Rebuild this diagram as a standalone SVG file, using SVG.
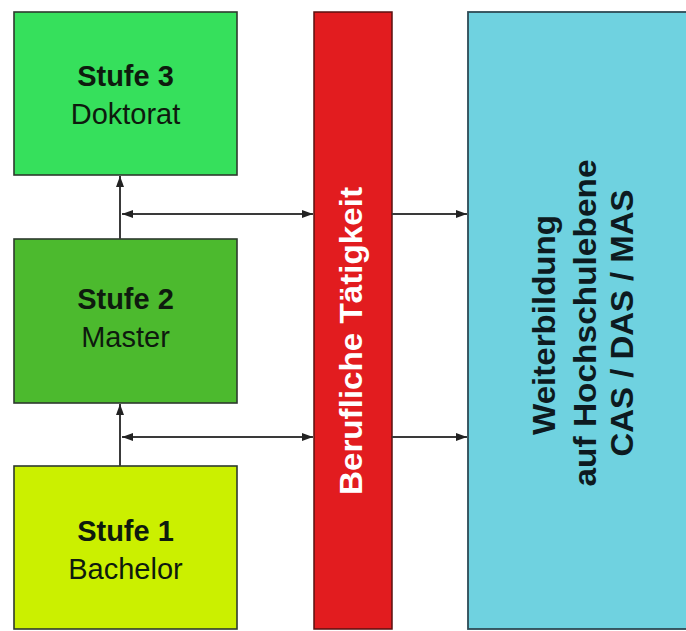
<svg xmlns="http://www.w3.org/2000/svg" width="686" height="631" viewBox="0 0 686 631">
  <defs>
    <marker id="ah" viewBox="0 0 11 10" refX="11" refY="5" markerWidth="11" markerHeight="10" markerUnits="userSpaceOnUse" orient="auto-start-reverse">
      <path d="M0,1 L11,5 L0,9 Z" fill="#222"/>
    </marker>
    <style>
      .box { stroke: #2d3a2d; stroke-width: 1.6; }
      .lbl { font-family: "Liberation Sans", Arial, sans-serif; font-size: 29px; fill: #0e1a0e; text-anchor: middle; }
      .b { font-weight: bold; }
      .rot { font-family: "Liberation Sans", Arial, sans-serif; font-size: 32px; font-weight: bold; text-anchor: middle; }
      .conn { stroke: #3a3a3a; stroke-width: 2; fill: none; }
    </style>
  </defs>
  <rect width="686" height="631" fill="#ffffff"/>

  <g id="stufe3">
    <rect class="box" x="14" y="12" width="223" height="163" fill="#36e05c"/>
    <text class="lbl b" x="125.5" y="86">Stufe 3</text>
    <text class="lbl" x="125.5" y="124">Doktorat</text>
  </g>

  <g id="stufe2">
    <rect class="box" x="14" y="239" width="223" height="164" fill="#4cba2e"/>
    <text class="lbl b" x="125.5" y="309">Stufe 2</text>
    <text class="lbl" x="125.5" y="347">Master</text>
  </g>

  <g id="stufe1">
    <rect class="box" x="14" y="466" width="223" height="163" fill="#cbf000"/>
    <text class="lbl b" x="125.5" y="541">Stufe 1</text>
    <text class="lbl" x="125.5" y="579">Bachelor</text>
  </g>

  <g id="beruf">
    <rect x="314" y="12" width="78" height="617" fill="#e21c1f" stroke="#5a1010" stroke-width="1.5"/>
    <text class="rot" fill="#ffffff" transform="translate(362,341) rotate(-90)" x="0" y="0" textLength="308" lengthAdjust="spacingAndGlyphs">Berufliche Tätigkeit</text>
  </g>

  <g id="weiterbildung">
    <rect x="468" y="12" width="224" height="617" fill="#6fd2e0" stroke="#2e4a55" stroke-width="1.8"/>
    <text class="rot" fill="#0d1a20" transform="translate(555,325) rotate(-90)" x="0" y="0" textLength="220" lengthAdjust="spacingAndGlyphs">Weiterbildung</text>
    <text class="rot" fill="#0d1a20" transform="translate(596,323) rotate(-90)" x="0" y="0" textLength="327" lengthAdjust="spacingAndGlyphs">auf Hochschulebene</text>
    <text class="rot" fill="#0d1a20" transform="translate(633,323) rotate(-90)" x="0" y="0" textLength="267" lengthAdjust="spacingAndGlyphs">CAS / DAS / MAS</text>
  </g>

  <g id="connectors">
    <line class="conn" x1="120" y1="239" x2="120" y2="176" marker-end="url(#ah)"/>
    <line class="conn" x1="122" y1="214" x2="313" y2="214" marker-start="url(#ah)" marker-end="url(#ah)"/>
    <line class="conn" x1="392" y1="214" x2="467" y2="214" marker-end="url(#ah)"/>
    <line class="conn" x1="120" y1="466" x2="120" y2="404" marker-end="url(#ah)"/>
    <line class="conn" x1="122" y1="437" x2="313" y2="437" marker-start="url(#ah)" marker-end="url(#ah)"/>
    <line class="conn" x1="392" y1="437" x2="467" y2="437" marker-end="url(#ah)"/>
  </g>
</svg>
